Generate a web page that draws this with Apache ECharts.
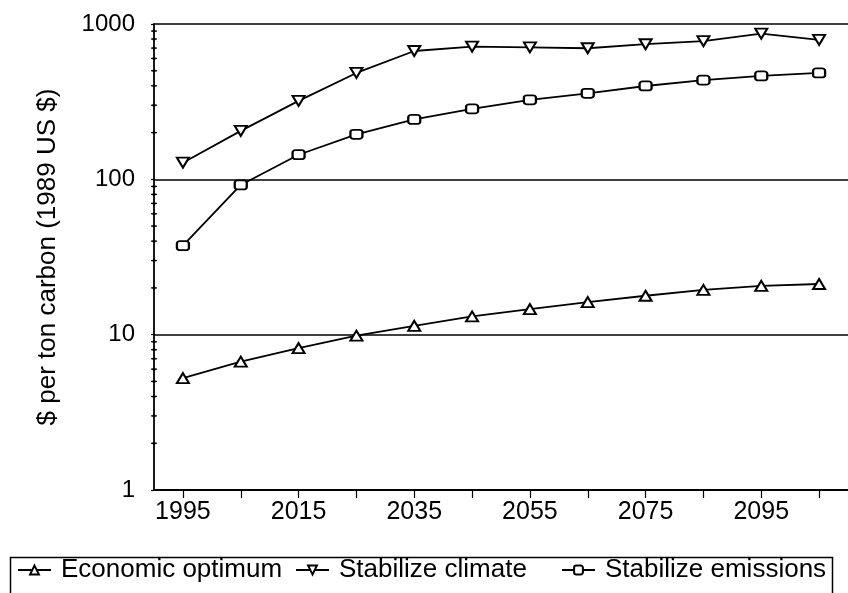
<!DOCTYPE html>
<html>
<head>
<meta charset="utf-8">
<script src="https://cdn.jsdelivr.net/npm/echarts@6/dist/echarts.min.js"></script>
<style>html,body{margin:0;padding:0;background:#fff}#c{width:848px;height:593px}</style>
</head>
<body>
<div id="c"></div>
<script>
var years = ['1995','2005','2015','2025','2035','2045','2055','2065','2075','2085','2095','2105'];
var economicOptimum = [5.25, 6.7, 8.2, 9.85, 11.4, 13.1, 14.6, 16.2, 17.8, 19.4, 20.6, 21.2];
var stabilizeClimate = [128, 205, 320, 484, 670, 715, 708, 698, 741, 775, 867, 790];
var stabilizeEmissions = [37.4, 92, 144, 195, 243, 284, 325, 358, 399, 435, 463, 484];
var yMinorTicks = [2,3,4,5,6,7,8,9,20,30,40,50,60,70,80,90,200,300,400,500,600,700,800,900];

var FONT = '"Liberation Sans", Arial, sans-serif';
var chart = echarts.init(document.getElementById('c'), null, {renderer: 'canvas'});

function lineSeries(name, data, symbol, size, rotate) {
  return {
    name: name, type: 'line', data: data,
    symbol: symbol, symbolSize: size, symbolRotate: rotate || 0,
    showAllSymbol: true,
    lineStyle: {color: '#000', width: 1.8},
    itemStyle: {color: '#fff', borderColor: '#000', borderWidth: 2},
    emphasis: {disabled: true},
    animation: false
  };
}

var legendCommon = {
  orient: 'horizontal', padding: 0, itemWidth: 33, itemHeight: 11, top: 557,
  textStyle: {fontSize: 26, color: '#000', fontFamily: FONT, padding: [0, 0, 0, 5]},
  selectedMode: false
};

chart.setOption({
  animation: false,
  backgroundColor: '#fff',
  grid: {left: 154, top: 24, height: 466, width: 701, containLabel: false},
  xAxis: {
    type: 'category', data: years, boundaryGap: true,
    axisLine: {lineStyle: {color: '#000', width: 1.8}},
    axisTick: {show: true, alignWithLabel: true, interval: 0, length: 8, lineStyle: {color: '#000', width: 1.2}},
    axisLabel: {interval: 1, fontSize: 25, color: '#000', fontFamily: FONT, margin: 10},
    splitLine: {show: false}
  },
  yAxis: {
    type: 'log', min: 1, max: 1000, logBase: 10,
    name: '$ per ton carbon (1989 US $)', nameLocation: 'middle', nameGap: 93,
    nameTextStyle: {fontSize: 26, color: '#000', fontFamily: FONT},
    axisLine: {show: true, lineStyle: {color: '#000', width: 1.8}},
    axisTick: {show: true, length: 3, lineStyle: {color: '#000', width: 1.2}},
    axisLabel: {fontSize: 24, color: '#000', fontFamily: FONT, margin: 19,
      formatter: function (v) { return String(v); }},
    splitLine: {show: true, lineStyle: {color: '#000', width: 1.6}}
  },
  legend: [
    Object.assign({left: 17, data: ['Economic optimum']}, legendCommon),
    Object.assign({left: 295, data: ['Stabilize climate']}, legendCommon),
    Object.assign({left: 561, data: ['Stabilize emissions']}, legendCommon)
  ],
  graphic: [{
    type: 'rect', left: 8, top: 555, shape: {width: 822, height: 50},
    style: {fill: 'none', stroke: '#000', lineWidth: 1.5}, silent: true
  }],
  series: [
    lineSeries('Economic optimum', economicOptimum, 'triangle', [12, 10], 0),
    lineSeries('Stabilize climate', stabilizeClimate, 'triangle', [12, 10], 180),
    lineSeries('Stabilize emissions', stabilizeEmissions, 'roundRect', [12, 9], 0),
    {
      type: 'custom', silent: true, clip: false, animation: false,
      data: yMinorTicks.map(function (v) { return [0, v]; }),
      renderItem: function (params, api) {
        var p = api.coord([0, api.value(1)]);
        var x = params.coordSys.x;
        return {
          type: 'group', children: [
            {type: 'line', shape: {x1: x - 3, y1: p[1], x2: x + 3, y2: p[1]}, style: {stroke: '#000', lineWidth: 1.2}},
            {type: 'circle', shape: {cx: x, cy: p[1], r: 1.6}, style: {fill: '#000'}}
          ]
        };
      }
    }
  ]
});
</script>
</body>
</html>
